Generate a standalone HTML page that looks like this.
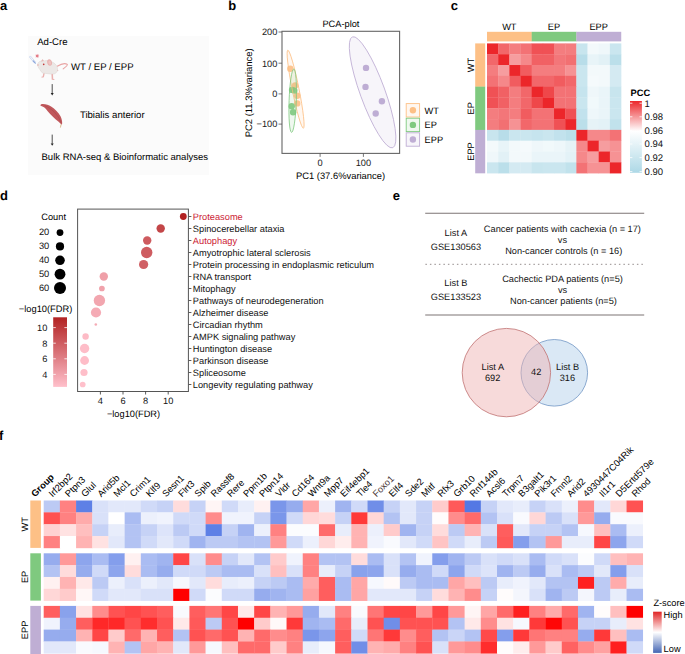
<!DOCTYPE html>
<html><head><meta charset="utf-8"><style>
html,body{margin:0;padding:0;background:#fff;overflow:hidden;}
svg{display:block;font-family:"Liberation Sans", sans-serif;text-rendering:geometricPrecision;}
</style></head><body>
<svg width="685" height="654" viewBox="0 0 685 654">
<rect width="685" height="654" fill="#fff"/>
<text x="0.10" y="9.70" font-size="13" text-anchor="start" fill="#000" font-weight="bold" >a</text>
<text x="228.20" y="9.70" font-size="13" text-anchor="start" fill="#000" font-weight="bold" >b</text>
<text x="450.80" y="9.60" font-size="13" text-anchor="start" fill="#000" font-weight="bold" >c</text>
<text x="0.00" y="200.20" font-size="13" text-anchor="start" fill="#000" font-weight="bold" >d</text>
<text x="392.70" y="200.30" font-size="13" text-anchor="start" fill="#000" font-weight="bold" >e</text>
<text x="-1.00" y="440.00" font-size="13" text-anchor="start" fill="#000" font-weight="bold" >f</text>
<rect x="28" y="36" width="181" height="139" fill="#fbfbfb"/>
<text x="37.20" y="45.30" font-size="9.6" text-anchor="start" fill="#000" font-weight="normal" >Ad-Cre</text>
<g>
<path d="M30.4 55.9 L29.3 57.0 L34.3 62.9 L35.4 61.8 Z" fill="#f2f5fb" stroke="#b3c5e6" stroke-width="0.5"/>
<path d="M33.2 60.9 L35.3 63.2" stroke="#8aa6dc" stroke-width="1.2" stroke-linecap="round"/>
<path d="M39.40 55.90 L38.22 56.32 L38.76 57.46 L37.62 56.92 L37.20 58.10 L36.78 56.92 L35.64 57.46 L36.18 56.32 L35.00 55.90 L36.18 55.48 L35.64 54.34 L36.78 54.88 L37.20 53.70 L37.62 54.88 L38.76 54.34 L38.22 55.48 Z" fill="#e47a86"/>
<path d="M57.2 66.2 C60.5 64.2 64.5 62.6 67.4 64.4 C67.6 66.2 65 67.3 63.2 68.8" fill="none" stroke="#e9a4a4" stroke-width="1.1" stroke-linecap="round"/>
<path d="M43.4 72.8 L44.8 73.0 L43.9 77.3 L41.5 77.7 L41.7 76.6 L42.7 76.4 Z" fill="#eab0ae"/>
<path d="M51.4 73.8 L53.0 73.8 L53.2 78.7 L54.6 79.2 L54.2 79.9 L51.7 79.7 Z" fill="#eab0ae"/>
<path d="M56.8 69.6 L58.6 70.3 L57.2 71.2 Z" fill="#eab0ae"/>
<path d="M37.3 65 C37.8 63.2 38.8 61.8 40.1 61.3 C41.5 60.8 43 60.7 44.2 60.9 C46.5 60.2 50 60.8 52.4 62.1 C54.3 63 56.6 64.8 57.3 67.4 C57.9 69.5 57.3 71.8 56.1 72.8 C55.2 73.6 54.4 74 53.6 74 L50.4 74 C48.5 73.9 46.5 73.3 43 73.2 C41.6 72.4 40.7 71.2 40.1 69.9 C39.3 68.8 38.2 67.4 37.3 65 Z" fill="#ece8e6" stroke="#ddd5d1" stroke-width="0.5"/>
<path d="M41.0 61.4 L42.6 58.9 L43.9 60.9 Z" fill="#e8b8b6"/>
<ellipse cx="49.6" cy="62.5" rx="2.4" ry="3.3" fill="#e9b4b2" transform="rotate(-12 49.6 62.5)"/>
<ellipse cx="49.7" cy="62.7" rx="1.3" ry="2.1" fill="#efc4c2" transform="rotate(-12 49.7 62.7)"/>
<circle cx="43.7" cy="64.3" r="0.85" fill="#c53a3a"/>
<circle cx="38.0" cy="65.0" r="0.8" fill="#e8b0ae"/>
</g>
<text x="71.00" y="69.80" font-size="9.6" text-anchor="start" fill="#000" font-weight="normal" >WT / EP / EPP</text>
<line x1="52.2" y1="84.1" x2="52.2" y2="93.5" stroke="#222" stroke-width="0.8"/>
<path d="M50.7 93.1 L53.7 93.1 L52.2 95.5 Z" fill="#222"/>
<line x1="52.2" y1="134.6" x2="52.2" y2="143.8" stroke="#222" stroke-width="0.8"/>
<path d="M50.7 143.4 L53.7 143.4 L52.2 145.8 Z" fill="#222"/>
<path d="M40.4 105.5 C40.2 104.6 41.2 103.9 42.9 103.9 C46 103.9 49 105 51.1 106.4 C55 108.8 58.5 112.5 60.5 116.2 C61.8 118.8 62.4 121.4 62.1 124 L61.6 124.7 C59.8 122.5 57.5 121 55.5 119.2 C52.5 116.6 50.5 114.5 48.8 112.5 C47 110.2 45.7 108.4 44 107.2 C42.6 106.3 41.2 106.2 40.4 105.5 Z" fill="#c0585c"/>
<path d="M44.5 105.6 C49 107.2 53.5 110.6 56.8 115 C58.8 117.6 60.3 120.2 61.2 123" stroke="#ad4a4e" stroke-width="0.7" fill="none"/>
<line x1="61.1" y1="124.3" x2="60.4" y2="127.6" stroke="#d8b684" stroke-width="0.9"/>
<text x="79.90" y="117.50" font-size="9.6" text-anchor="start" fill="#000" font-weight="normal" >Tibialis anterior</text>
<text x="41.50" y="160.10" font-size="9.52" text-anchor="start" fill="#000" font-weight="normal" >Bulk RNA-seq &amp; Bioinformatic analyses</text>
<circle cx="290.3" cy="68.8" r="3.2" fill="#fdc086" fill-opacity="0.9"/>
<circle cx="295.1" cy="85.5" r="3.2" fill="#fdc086" fill-opacity="0.9"/>
<circle cx="297.2" cy="95.8" r="3.2" fill="#fdc086" fill-opacity="0.9"/>
<circle cx="297.2" cy="103.4" r="3.2" fill="#fdc086" fill-opacity="0.9"/>
<circle cx="292.1" cy="89.9" r="3.2" fill="#7fc97f" fill-opacity="0.9"/>
<circle cx="294.3" cy="90.6" r="3.2" fill="#7fc97f" fill-opacity="0.9"/>
<circle cx="291.7" cy="106.3" r="3.2" fill="#7fc97f" fill-opacity="0.9"/>
<circle cx="293.1" cy="112.3" r="3.2" fill="#7fc97f" fill-opacity="0.9"/>
<circle cx="366" cy="67.9" r="3.2" fill="#bfaed4"/>
<circle cx="365.5" cy="86.9" r="3.2" fill="#bfaed4"/>
<circle cx="381.9" cy="101.2" r="3.2" fill="#bfaed4"/>
<circle cx="375.7" cy="113.5" r="3.2" fill="#bfaed4"/>
<ellipse cx="372.6" cy="92.3" rx="12.4" ry="59" transform="rotate(-20 372.6 92.3)" fill="#bfaed4" fill-opacity="0.12" stroke="#bfaed4" stroke-width="0.8"/>
<ellipse cx="295.6" cy="89.2" rx="3.4" ry="39.8" transform="rotate(-11.3 295.6 89.2)" fill="#fdc086" fill-opacity="0.12" stroke="#fdc086" stroke-width="0.8"/>
<ellipse cx="292.7" cy="100.7" rx="3.6" ry="31.7" transform="rotate(2 292.7 100.7)" fill="#7fc97f" fill-opacity="0.12" stroke="#7fc97f" stroke-width="0.8"/>
<rect x="282.0" y="31.3" width="117.60" height="122.10" fill="none" stroke="#666" stroke-width="1.1"/>
<line x1="278.5" y1="32.0" x2="282.0" y2="32.0" stroke="#555" stroke-width="0.8"/>
<text x="277.40" y="35.30" font-size="9.25" text-anchor="end" fill="#1a1a1a" font-weight="normal" >200</text>
<line x1="278.5" y1="63.2" x2="282.0" y2="63.2" stroke="#555" stroke-width="0.8"/>
<text x="277.40" y="66.50" font-size="9.25" text-anchor="end" fill="#1a1a1a" font-weight="normal" >100</text>
<line x1="278.5" y1="93.9" x2="282.0" y2="93.9" stroke="#555" stroke-width="0.8"/>
<text x="277.40" y="97.20" font-size="9.25" text-anchor="end" fill="#1a1a1a" font-weight="normal" >0</text>
<line x1="278.5" y1="124.1" x2="282.0" y2="124.1" stroke="#555" stroke-width="0.8"/>
<text x="277.40" y="127.40" font-size="9.25" text-anchor="end" fill="#1a1a1a" font-weight="normal" >−100</text>
<line x1="320.1" y1="153.4" x2="320.1" y2="156.9" stroke="#555" stroke-width="0.8"/>
<text x="320.10" y="165.50" font-size="9.25" text-anchor="middle" fill="#1a1a1a" font-weight="normal" >0</text>
<line x1="363.4" y1="153.4" x2="363.4" y2="156.9" stroke="#555" stroke-width="0.8"/>
<text x="363.40" y="165.50" font-size="9.25" text-anchor="middle" fill="#1a1a1a" font-weight="normal" >100</text>
<text x="340.90" y="26.80" font-size="9.25" text-anchor="middle" fill="#000" font-weight="normal" >PCA-plot</text>
<text x="340.50" y="178.50" font-size="9.4" text-anchor="middle" fill="#000" font-weight="normal" >PC1 (37.6%variance)</text>
<text x="0" y="0" font-size="9.45" text-anchor="middle" transform="translate(252.0 92.8) rotate(-90)">PC2 (11.3%variance)</text>
<rect x="406.2" y="103.6" width="13.4" height="13.4" fill="#fdc086" fill-opacity="0.12" stroke="#fdc086" stroke-width="0.9"/>
<circle cx="412.9" cy="110.3" r="3.2" fill="#fdc086"/>
<text x="424.60" y="113.80" font-size="9.25" text-anchor="start" fill="#000" font-weight="normal" >WT</text>
<rect x="406.2" y="118.19999999999999" width="13.4" height="13.4" fill="#7fc97f" fill-opacity="0.12" stroke="#7fc97f" stroke-width="0.9"/>
<circle cx="412.9" cy="124.89999999999999" r="3.2" fill="#7fc97f"/>
<text x="424.60" y="128.40" font-size="9.25" text-anchor="start" fill="#000" font-weight="normal" >EP</text>
<rect x="406.2" y="132.79999999999998" width="13.4" height="13.4" fill="#bfaed4" fill-opacity="0.12" stroke="#bfaed4" stroke-width="0.9"/>
<circle cx="412.9" cy="139.49999999999997" r="3.2" fill="#bfaed4"/>
<text x="424.60" y="143.00" font-size="9.25" text-anchor="start" fill="#000" font-weight="normal" >EPP</text>
<rect x="487.00" y="43.40" width="11.47" height="11.11" fill="#ec262a"/>
<rect x="498.17" y="43.40" width="11.47" height="11.11" fill="#f2676a"/>
<rect x="509.34" y="43.40" width="11.47" height="11.11" fill="#f47d7f"/>
<rect x="520.51" y="43.40" width="11.47" height="11.11" fill="#f37275"/>
<rect x="531.68" y="43.40" width="11.47" height="11.11" fill="#f05155"/>
<rect x="542.85" y="43.40" width="11.47" height="11.11" fill="#f05155"/>
<rect x="554.02" y="43.40" width="11.47" height="11.11" fill="#f47d7f"/>
<rect x="565.19" y="43.40" width="11.47" height="11.11" fill="#f47d7f"/>
<rect x="576.36" y="43.40" width="11.47" height="11.11" fill="#c8e5ee"/>
<rect x="587.53" y="43.40" width="11.47" height="11.11" fill="#f3f9fb"/>
<rect x="598.70" y="43.40" width="11.47" height="11.11" fill="#eff7fa"/>
<rect x="609.87" y="43.40" width="11.47" height="11.11" fill="#cae6ef"/>
<rect x="487.00" y="54.21" width="11.47" height="11.11" fill="#f2676a"/>
<rect x="498.17" y="54.21" width="11.47" height="11.11" fill="#ec262a"/>
<rect x="509.34" y="54.21" width="11.47" height="11.11" fill="#f69d9f"/>
<rect x="520.51" y="54.21" width="11.47" height="11.11" fill="#f5888a"/>
<rect x="531.68" y="54.21" width="11.47" height="11.11" fill="#f16164"/>
<rect x="542.85" y="54.21" width="11.47" height="11.11" fill="#f16164"/>
<rect x="554.02" y="54.21" width="11.47" height="11.11" fill="#f37679"/>
<rect x="565.19" y="54.21" width="11.47" height="11.11" fill="#f27072"/>
<rect x="576.36" y="54.21" width="11.47" height="11.11" fill="#b8dde9"/>
<rect x="587.53" y="54.21" width="11.47" height="11.11" fill="#e8f4f8"/>
<rect x="598.70" y="54.21" width="11.47" height="11.11" fill="#e2f1f6"/>
<rect x="609.87" y="54.21" width="11.47" height="11.11" fill="#bbdfea"/>
<rect x="487.00" y="65.02" width="11.47" height="11.11" fill="#f47d7f"/>
<rect x="498.17" y="65.02" width="11.47" height="11.11" fill="#f69d9f"/>
<rect x="509.34" y="65.02" width="11.47" height="11.11" fill="#ec262a"/>
<rect x="520.51" y="65.02" width="11.47" height="11.11" fill="#f15c5f"/>
<rect x="531.68" y="65.02" width="11.47" height="11.11" fill="#f47d7f"/>
<rect x="542.85" y="65.02" width="11.47" height="11.11" fill="#f47d7f"/>
<rect x="554.02" y="65.02" width="11.47" height="11.11" fill="#f47d7f"/>
<rect x="565.19" y="65.02" width="11.47" height="11.11" fill="#f69294"/>
<rect x="576.36" y="65.02" width="11.47" height="11.11" fill="#cae6ef"/>
<rect x="587.53" y="65.02" width="11.47" height="11.11" fill="#f3f9fb"/>
<rect x="598.70" y="65.02" width="11.47" height="11.11" fill="#f3f9fb"/>
<rect x="609.87" y="65.02" width="11.47" height="11.11" fill="#d4eaf2"/>
<rect x="487.00" y="75.83" width="11.47" height="11.11" fill="#f37275"/>
<rect x="498.17" y="75.83" width="11.47" height="11.11" fill="#f5888a"/>
<rect x="509.34" y="75.83" width="11.47" height="11.11" fill="#f15c5f"/>
<rect x="520.51" y="75.83" width="11.47" height="11.11" fill="#ec262a"/>
<rect x="531.68" y="75.83" width="11.47" height="11.11" fill="#f2676a"/>
<rect x="542.85" y="75.83" width="11.47" height="11.11" fill="#f2676a"/>
<rect x="554.02" y="75.83" width="11.47" height="11.11" fill="#f15c5f"/>
<rect x="565.19" y="75.83" width="11.47" height="11.11" fill="#f2676a"/>
<rect x="576.36" y="75.83" width="11.47" height="11.11" fill="#cae6ef"/>
<rect x="587.53" y="75.83" width="11.47" height="11.11" fill="#f5fafc"/>
<rect x="598.70" y="75.83" width="11.47" height="11.11" fill="#f3f9fb"/>
<rect x="609.87" y="75.83" width="11.47" height="11.11" fill="#d4eaf2"/>
<rect x="487.00" y="86.64" width="11.47" height="11.11" fill="#f05155"/>
<rect x="498.17" y="86.64" width="11.47" height="11.11" fill="#f16164"/>
<rect x="509.34" y="86.64" width="11.47" height="11.11" fill="#f47d7f"/>
<rect x="520.51" y="86.64" width="11.47" height="11.11" fill="#f2676a"/>
<rect x="531.68" y="86.64" width="11.47" height="11.11" fill="#ec262a"/>
<rect x="542.85" y="86.64" width="11.47" height="11.11" fill="#ef474a"/>
<rect x="554.02" y="86.64" width="11.47" height="11.11" fill="#f37275"/>
<rect x="565.19" y="86.64" width="11.47" height="11.11" fill="#f37275"/>
<rect x="576.36" y="86.64" width="11.47" height="11.11" fill="#c6e4ee"/>
<rect x="587.53" y="86.64" width="11.47" height="11.11" fill="#eff7fa"/>
<rect x="598.70" y="86.64" width="11.47" height="11.11" fill="#eaf5f9"/>
<rect x="609.87" y="86.64" width="11.47" height="11.11" fill="#c8e5ee"/>
<rect x="487.00" y="97.45" width="11.47" height="11.11" fill="#f05155"/>
<rect x="498.17" y="97.45" width="11.47" height="11.11" fill="#f16164"/>
<rect x="509.34" y="97.45" width="11.47" height="11.11" fill="#f47d7f"/>
<rect x="520.51" y="97.45" width="11.47" height="11.11" fill="#f2676a"/>
<rect x="531.68" y="97.45" width="11.47" height="11.11" fill="#ef474a"/>
<rect x="542.85" y="97.45" width="11.47" height="11.11" fill="#ec262a"/>
<rect x="554.02" y="97.45" width="11.47" height="11.11" fill="#f37275"/>
<rect x="565.19" y="97.45" width="11.47" height="11.11" fill="#f37275"/>
<rect x="576.36" y="97.45" width="11.47" height="11.11" fill="#cae6ef"/>
<rect x="587.53" y="97.45" width="11.47" height="11.11" fill="#f1f9fb"/>
<rect x="598.70" y="97.45" width="11.47" height="11.11" fill="#eaf5f9"/>
<rect x="609.87" y="97.45" width="11.47" height="11.11" fill="#cae6ef"/>
<rect x="487.00" y="108.26" width="11.47" height="11.11" fill="#f47d7f"/>
<rect x="498.17" y="108.26" width="11.47" height="11.11" fill="#f37679"/>
<rect x="509.34" y="108.26" width="11.47" height="11.11" fill="#f47d7f"/>
<rect x="520.51" y="108.26" width="11.47" height="11.11" fill="#f15c5f"/>
<rect x="531.68" y="108.26" width="11.47" height="11.11" fill="#f37275"/>
<rect x="542.85" y="108.26" width="11.47" height="11.11" fill="#f37275"/>
<rect x="554.02" y="108.26" width="11.47" height="11.11" fill="#ec262a"/>
<rect x="565.19" y="108.26" width="11.47" height="11.11" fill="#f05155"/>
<rect x="576.36" y="108.26" width="11.47" height="11.11" fill="#c2e2ed"/>
<rect x="587.53" y="108.26" width="11.47" height="11.11" fill="#eef7fa"/>
<rect x="598.70" y="108.26" width="11.47" height="11.11" fill="#eaf5f9"/>
<rect x="609.87" y="108.26" width="11.47" height="11.11" fill="#cae6ef"/>
<rect x="487.00" y="119.07" width="11.47" height="11.11" fill="#f47d7f"/>
<rect x="498.17" y="119.07" width="11.47" height="11.11" fill="#f27072"/>
<rect x="509.34" y="119.07" width="11.47" height="11.11" fill="#f69294"/>
<rect x="520.51" y="119.07" width="11.47" height="11.11" fill="#f2676a"/>
<rect x="531.68" y="119.07" width="11.47" height="11.11" fill="#f37275"/>
<rect x="542.85" y="119.07" width="11.47" height="11.11" fill="#f37275"/>
<rect x="554.02" y="119.07" width="11.47" height="11.11" fill="#f05155"/>
<rect x="565.19" y="119.07" width="11.47" height="11.11" fill="#ec262a"/>
<rect x="576.36" y="119.07" width="11.47" height="11.11" fill="#bbdfea"/>
<rect x="587.53" y="119.07" width="11.47" height="11.11" fill="#e6f3f7"/>
<rect x="598.70" y="119.07" width="11.47" height="11.11" fill="#e3f2f7"/>
<rect x="609.87" y="119.07" width="11.47" height="11.11" fill="#c1e2ec"/>
<rect x="487.00" y="129.88" width="11.47" height="11.11" fill="#c8e5ee"/>
<rect x="498.17" y="129.88" width="11.47" height="11.11" fill="#b8dde9"/>
<rect x="509.34" y="129.88" width="11.47" height="11.11" fill="#cae6ef"/>
<rect x="520.51" y="129.88" width="11.47" height="11.11" fill="#cae6ef"/>
<rect x="531.68" y="129.88" width="11.47" height="11.11" fill="#c6e4ee"/>
<rect x="542.85" y="129.88" width="11.47" height="11.11" fill="#cae6ef"/>
<rect x="554.02" y="129.88" width="11.47" height="11.11" fill="#c2e2ed"/>
<rect x="565.19" y="129.88" width="11.47" height="11.11" fill="#bbdfea"/>
<rect x="576.36" y="129.88" width="11.47" height="11.11" fill="#ec262a"/>
<rect x="587.53" y="129.88" width="11.47" height="11.11" fill="#f5888a"/>
<rect x="598.70" y="129.88" width="11.47" height="11.11" fill="#f5888a"/>
<rect x="609.87" y="129.88" width="11.47" height="11.11" fill="#f37275"/>
<rect x="487.00" y="140.69" width="11.47" height="11.11" fill="#f3f9fb"/>
<rect x="498.17" y="140.69" width="11.47" height="11.11" fill="#e8f4f8"/>
<rect x="509.34" y="140.69" width="11.47" height="11.11" fill="#f3f9fb"/>
<rect x="520.51" y="140.69" width="11.47" height="11.11" fill="#f5fafc"/>
<rect x="531.68" y="140.69" width="11.47" height="11.11" fill="#eff7fa"/>
<rect x="542.85" y="140.69" width="11.47" height="11.11" fill="#f1f9fb"/>
<rect x="554.02" y="140.69" width="11.47" height="11.11" fill="#eef7fa"/>
<rect x="565.19" y="140.69" width="11.47" height="11.11" fill="#e6f3f7"/>
<rect x="576.36" y="140.69" width="11.47" height="11.11" fill="#f5888a"/>
<rect x="587.53" y="140.69" width="11.47" height="11.11" fill="#ec262a"/>
<rect x="598.70" y="140.69" width="11.47" height="11.11" fill="#f69d9f"/>
<rect x="609.87" y="140.69" width="11.47" height="11.11" fill="#f69294"/>
<rect x="487.00" y="151.50" width="11.47" height="11.11" fill="#eff7fa"/>
<rect x="498.17" y="151.50" width="11.47" height="11.11" fill="#e2f1f6"/>
<rect x="509.34" y="151.50" width="11.47" height="11.11" fill="#f3f9fb"/>
<rect x="520.51" y="151.50" width="11.47" height="11.11" fill="#f3f9fb"/>
<rect x="531.68" y="151.50" width="11.47" height="11.11" fill="#eaf5f9"/>
<rect x="542.85" y="151.50" width="11.47" height="11.11" fill="#eaf5f9"/>
<rect x="554.02" y="151.50" width="11.47" height="11.11" fill="#eaf5f9"/>
<rect x="565.19" y="151.50" width="11.47" height="11.11" fill="#e3f2f7"/>
<rect x="576.36" y="151.50" width="11.47" height="11.11" fill="#f5888a"/>
<rect x="587.53" y="151.50" width="11.47" height="11.11" fill="#f69d9f"/>
<rect x="598.70" y="151.50" width="11.47" height="11.11" fill="#ec262a"/>
<rect x="609.87" y="151.50" width="11.47" height="11.11" fill="#f69294"/>
<rect x="487.00" y="162.31" width="11.47" height="11.11" fill="#cae6ef"/>
<rect x="498.17" y="162.31" width="11.47" height="11.11" fill="#bbdfea"/>
<rect x="509.34" y="162.31" width="11.47" height="11.11" fill="#d4eaf2"/>
<rect x="520.51" y="162.31" width="11.47" height="11.11" fill="#d4eaf2"/>
<rect x="531.68" y="162.31" width="11.47" height="11.11" fill="#c8e5ee"/>
<rect x="542.85" y="162.31" width="11.47" height="11.11" fill="#cae6ef"/>
<rect x="554.02" y="162.31" width="11.47" height="11.11" fill="#cae6ef"/>
<rect x="565.19" y="162.31" width="11.47" height="11.11" fill="#c1e2ec"/>
<rect x="576.36" y="162.31" width="11.47" height="11.11" fill="#f37275"/>
<rect x="587.53" y="162.31" width="11.47" height="11.11" fill="#f69294"/>
<rect x="598.70" y="162.31" width="11.47" height="11.11" fill="#f69294"/>
<rect x="609.87" y="162.31" width="11.47" height="11.11" fill="#ec262a"/>
<rect x="487.00" y="31.8" width="44.88" height="9.6" fill="#fdc086"/>
<rect x="475.2" y="43.40" width="10" height="43.44" fill="#fdc086"/>
<rect x="531.68" y="31.8" width="44.88" height="9.6" fill="#7fc97f"/>
<rect x="475.2" y="86.64" width="10" height="43.44" fill="#7fc97f"/>
<rect x="576.36" y="31.8" width="44.88" height="9.6" fill="#bfaed4"/>
<rect x="475.2" y="129.88" width="10" height="43.44" fill="#bfaed4"/>
<text x="509.34" y="30.10" font-size="9.25" text-anchor="middle" fill="#000" font-weight="normal" >WT</text>
<text x="0" y="0" font-size="9.25" text-anchor="middle" transform="translate(473.9 65.02) rotate(-90)">WT</text>
<text x="554.02" y="30.10" font-size="9.25" text-anchor="middle" fill="#000" font-weight="normal" >EP</text>
<text x="0" y="0" font-size="9.25" text-anchor="middle" transform="translate(473.9 108.26) rotate(-90)">EP</text>
<text x="598.70" y="30.10" font-size="9.25" text-anchor="middle" fill="#000" font-weight="normal" >EPP</text>
<text x="0" y="0" font-size="9.25" text-anchor="middle" transform="translate(473.9 151.50) rotate(-90)">EPP</text>
<defs><linearGradient id="pcc" x1="0" y1="1" x2="0" y2="0"><stop offset="0" stop-color="#add8e6"/><stop offset="0.58" stop-color="#ffffff"/><stop offset="1" stop-color="#ec262a"/></linearGradient></defs>
<rect x="630" y="101" width="11.9" height="71.8" fill="url(#pcc)"/>
<line x1="630" y1="103.2" x2="632.4" y2="103.2" stroke="#fff" stroke-width="0.8"/><line x1="639.5" y1="103.2" x2="641.9" y2="103.2" stroke="#fff" stroke-width="0.8"/>
<text x="644.60" y="106.60" font-size="9.5" text-anchor="start" fill="#111" font-weight="normal" >1</text>
<line x1="630" y1="116.8" x2="632.4" y2="116.8" stroke="#fff" stroke-width="0.8"/><line x1="639.5" y1="116.8" x2="641.9" y2="116.8" stroke="#fff" stroke-width="0.8"/>
<text x="644.60" y="120.20" font-size="9.5" text-anchor="start" fill="#111" font-weight="normal" >0.98</text>
<line x1="630" y1="130.5" x2="632.4" y2="130.5" stroke="#fff" stroke-width="0.8"/><line x1="639.5" y1="130.5" x2="641.9" y2="130.5" stroke="#fff" stroke-width="0.8"/>
<text x="644.60" y="133.90" font-size="9.5" text-anchor="start" fill="#111" font-weight="normal" >0.96</text>
<line x1="630" y1="144.0" x2="632.4" y2="144.0" stroke="#fff" stroke-width="0.8"/><line x1="639.5" y1="144.0" x2="641.9" y2="144.0" stroke="#fff" stroke-width="0.8"/>
<text x="644.60" y="147.40" font-size="9.5" text-anchor="start" fill="#111" font-weight="normal" >0.94</text>
<line x1="630" y1="157.6" x2="632.4" y2="157.6" stroke="#fff" stroke-width="0.8"/><line x1="639.5" y1="157.6" x2="641.9" y2="157.6" stroke="#fff" stroke-width="0.8"/>
<text x="644.60" y="161.00" font-size="9.5" text-anchor="start" fill="#111" font-weight="normal" >0.92</text>
<line x1="630" y1="171.6" x2="632.4" y2="171.6" stroke="#fff" stroke-width="0.8"/><line x1="639.5" y1="171.6" x2="641.9" y2="171.6" stroke="#fff" stroke-width="0.8"/>
<text x="644.60" y="175.00" font-size="9.5" text-anchor="start" fill="#111" font-weight="normal" >0.90</text>
<text x="630.50" y="95.70" font-size="9.3" text-anchor="start" fill="#000" font-weight="bold" >PCC</text>
<circle cx="183.3" cy="216.50" r="3.4" fill="#b22222"/>
<line x1="188.4" y1="216.50" x2="191.4" y2="216.50" stroke="#333" stroke-width="0.8"/>
<text x="192.80" y="219.60" font-size="9.28" text-anchor="start" fill="#cc2233" font-weight="normal" >Proteasome</text>
<circle cx="160.7" cy="228.50" r="4.2" fill="#c34648"/>
<line x1="188.4" y1="228.50" x2="191.4" y2="228.50" stroke="#333" stroke-width="0.8"/>
<text x="192.80" y="231.60" font-size="9.28" text-anchor="start" fill="#111" font-weight="normal" >Spinocerebellar ataxia</text>
<circle cx="147.2" cy="240.50" r="4.2" fill="#ce5b5f"/>
<line x1="188.4" y1="240.50" x2="191.4" y2="240.50" stroke="#333" stroke-width="0.8"/>
<text x="192.80" y="243.60" font-size="9.28" text-anchor="start" fill="#cc2233" font-weight="normal" >Autophagy</text>
<circle cx="146.7" cy="252.50" r="5.7" fill="#ce5c60"/>
<line x1="188.4" y1="252.50" x2="191.4" y2="252.50" stroke="#333" stroke-width="0.8"/>
<text x="192.80" y="255.60" font-size="9.28" text-anchor="start" fill="#111" font-weight="normal" >Amyotrophic lateral sclerosis</text>
<circle cx="143.6" cy="264.50" r="4.6" fill="#d06065"/>
<line x1="188.4" y1="264.50" x2="191.4" y2="264.50" stroke="#333" stroke-width="0.8"/>
<text x="192.80" y="267.60" font-size="9.28" text-anchor="start" fill="#111" font-weight="normal" >Protein processing in endoplasmic reticulum</text>
<circle cx="103.8" cy="276.50" r="4.2" fill="#ef9fa8"/>
<line x1="188.4" y1="276.50" x2="191.4" y2="276.50" stroke="#333" stroke-width="0.8"/>
<text x="192.80" y="279.60" font-size="9.28" text-anchor="start" fill="#111" font-weight="normal" >RNA transport</text>
<circle cx="101.9" cy="288.50" r="2.85" fill="#f0a2ab"/>
<line x1="188.4" y1="288.50" x2="191.4" y2="288.50" stroke="#333" stroke-width="0.8"/>
<text x="192.80" y="291.60" font-size="9.28" text-anchor="start" fill="#111" font-weight="normal" >Mitophagy</text>
<circle cx="99.4" cy="300.50" r="5.7" fill="#f2a6af"/>
<line x1="188.4" y1="300.50" x2="191.4" y2="300.50" stroke="#333" stroke-width="0.8"/>
<text x="192.80" y="303.60" font-size="9.28" text-anchor="start" fill="#111" font-weight="normal" >Pathways of neurodegeneration</text>
<circle cx="96.0" cy="312.50" r="5.1" fill="#f5abb5"/>
<line x1="188.4" y1="312.50" x2="191.4" y2="312.50" stroke="#333" stroke-width="0.8"/>
<text x="192.80" y="315.60" font-size="9.28" text-anchor="start" fill="#111" font-weight="normal" >Alzheimer disease</text>
<circle cx="95.8" cy="324.50" r="1.3" fill="#f5abb5"/>
<line x1="188.4" y1="324.50" x2="191.4" y2="324.50" stroke="#333" stroke-width="0.8"/>
<text x="192.80" y="327.60" font-size="9.28" text-anchor="start" fill="#111" font-weight="normal" >Circadian rhythm</text>
<circle cx="85.6" cy="336.50" r="3.2" fill="#fdbbc6"/>
<line x1="188.4" y1="336.50" x2="191.4" y2="336.50" stroke="#333" stroke-width="0.8"/>
<text x="192.80" y="339.60" font-size="9.28" text-anchor="start" fill="#111" font-weight="normal" >AMPK signaling pathway</text>
<circle cx="84.6" cy="348.50" r="4.7" fill="#febdc8"/>
<line x1="188.4" y1="348.50" x2="191.4" y2="348.50" stroke="#333" stroke-width="0.8"/>
<text x="192.80" y="351.60" font-size="9.28" text-anchor="start" fill="#111" font-weight="normal" >Huntington disease</text>
<circle cx="84.6" cy="360.50" r="4.4" fill="#febdc8"/>
<line x1="188.4" y1="360.50" x2="191.4" y2="360.50" stroke="#333" stroke-width="0.8"/>
<text x="192.80" y="363.60" font-size="9.28" text-anchor="start" fill="#111" font-weight="normal" >Parkinson disease</text>
<circle cx="84.0" cy="372.50" r="3.6" fill="#febec9"/>
<line x1="188.4" y1="372.50" x2="191.4" y2="372.50" stroke="#333" stroke-width="0.8"/>
<text x="192.80" y="375.60" font-size="9.28" text-anchor="start" fill="#111" font-weight="normal" >Spliceosome</text>
<circle cx="82.7" cy="384.50" r="2.85" fill="#ffc0cb"/>
<line x1="188.4" y1="384.50" x2="191.4" y2="384.50" stroke="#333" stroke-width="0.8"/>
<text x="192.80" y="387.60" font-size="9.28" text-anchor="start" fill="#111" font-weight="normal" >Longevity regulating pathway</text>
<rect x="77.6" y="209.1" width="110.80000000000001" height="182.4" fill="none" stroke="#555" stroke-width="1"/>
<line x1="100.4" y1="391.5" x2="100.4" y2="394.5" stroke="#333" stroke-width="0.8"/>
<text x="100.40" y="403.80" font-size="9.25" text-anchor="middle" fill="#111" font-weight="normal" >4</text>
<line x1="123.0" y1="391.5" x2="123.0" y2="394.5" stroke="#333" stroke-width="0.8"/>
<text x="123.00" y="403.80" font-size="9.25" text-anchor="middle" fill="#111" font-weight="normal" >6</text>
<line x1="145.6" y1="391.5" x2="145.6" y2="394.5" stroke="#333" stroke-width="0.8"/>
<text x="145.60" y="403.80" font-size="9.25" text-anchor="middle" fill="#111" font-weight="normal" >8</text>
<line x1="168.2" y1="391.5" x2="168.2" y2="394.5" stroke="#333" stroke-width="0.8"/>
<text x="168.20" y="403.80" font-size="9.25" text-anchor="middle" fill="#111" font-weight="normal" >10</text>
<text x="133.50" y="417.40" font-size="9.25" text-anchor="middle" fill="#000" font-weight="normal" >−log10(FDR)</text>
<text x="41.30" y="220.10" font-size="9.25" text-anchor="start" fill="#000" font-weight="normal" >Count</text>
<circle cx="60" cy="232.60" r="3.4" fill="#000"/>
<text x="49.30" y="235.30" font-size="9.3" text-anchor="end" fill="#111" font-weight="normal" >20</text>
<circle cx="60" cy="246.45" r="4.1" fill="#000"/>
<text x="49.30" y="249.15" font-size="9.3" text-anchor="end" fill="#111" font-weight="normal" >30</text>
<circle cx="60" cy="260.30" r="4.8" fill="#000"/>
<text x="49.30" y="263.00" font-size="9.3" text-anchor="end" fill="#111" font-weight="normal" >40</text>
<circle cx="60" cy="274.15" r="5.4" fill="#000"/>
<text x="49.30" y="276.85" font-size="9.3" text-anchor="end" fill="#111" font-weight="normal" >50</text>
<circle cx="60" cy="288.00" r="6.0" fill="#000"/>
<text x="49.30" y="290.70" font-size="9.3" text-anchor="end" fill="#111" font-weight="normal" >60</text>
<text x="45.60" y="311.90" font-size="9.3" text-anchor="middle" fill="#000" font-weight="normal" >−log10(FDR)</text>
<defs><linearGradient id="fdr" x1="0" y1="1" x2="0" y2="0"><stop offset="0" stop-color="#ffc0cb"/><stop offset="1" stop-color="#b22222"/></linearGradient></defs>
<rect x="53.2" y="317.3" width="13.8" height="69.6" fill="url(#fdr)"/>
<line x1="53.2" y1="327.6" x2="55.8" y2="327.6" stroke="#fff" stroke-width="0.8"/><line x1="64.4" y1="327.6" x2="67" y2="327.6" stroke="#fff" stroke-width="0.8"/>
<text x="47.40" y="330.90" font-size="9.25" text-anchor="end" fill="#111" font-weight="normal" >10</text>
<line x1="53.2" y1="343.2" x2="55.8" y2="343.2" stroke="#fff" stroke-width="0.8"/><line x1="64.4" y1="343.2" x2="67" y2="343.2" stroke="#fff" stroke-width="0.8"/>
<text x="47.40" y="346.50" font-size="9.25" text-anchor="end" fill="#111" font-weight="normal" >8</text>
<line x1="53.2" y1="358.8" x2="55.8" y2="358.8" stroke="#fff" stroke-width="0.8"/><line x1="64.4" y1="358.8" x2="67" y2="358.8" stroke="#fff" stroke-width="0.8"/>
<text x="47.40" y="362.10" font-size="9.25" text-anchor="end" fill="#111" font-weight="normal" >6</text>
<line x1="53.2" y1="374.4" x2="55.8" y2="374.4" stroke="#fff" stroke-width="0.8"/><line x1="64.4" y1="374.4" x2="67" y2="374.4" stroke="#fff" stroke-width="0.8"/>
<text x="47.40" y="377.70" font-size="9.25" text-anchor="end" fill="#111" font-weight="normal" >4</text>
<line x1="425.2" y1="213.3" x2="644.2" y2="213.3" stroke="#7d7575" stroke-width="1.1"/>
<line x1="425.4" y1="264.3" x2="644.2" y2="264.3" stroke="#aaa4a4" stroke-width="1.3" stroke-dasharray="1.5 3"/>
<line x1="425.2" y1="315.0" x2="644.2" y2="315.0" stroke="#7d7575" stroke-width="1.1"/>
<text x="455.90" y="236.00" font-size="9.22" text-anchor="middle" fill="#111" font-weight="normal" >List A</text>
<text x="455.90" y="249.80" font-size="9.22" text-anchor="middle" fill="#111" font-weight="normal" >GSE130563</text>
<text x="455.90" y="285.90" font-size="9.22" text-anchor="middle" fill="#111" font-weight="normal" >List B</text>
<text x="455.90" y="299.50" font-size="9.22" text-anchor="middle" fill="#111" font-weight="normal" >GSE133523</text>
<text x="562.40" y="232.00" font-size="9.22" text-anchor="middle" fill="#111" font-weight="normal" >Cancer patients with cachexia (n = 17)</text>
<text x="562.40" y="242.60" font-size="9.22" text-anchor="middle" fill="#111" font-weight="normal" >vs</text>
<text x="563.70" y="254.10" font-size="9.22" text-anchor="middle" fill="#111" font-weight="normal" >Non-cancer controls (n = 16)</text>
<text x="562.50" y="281.70" font-size="9.22" text-anchor="middle" fill="#111" font-weight="normal" >Cachectic PDA patients (n=5)</text>
<text x="562.50" y="292.50" font-size="9.22" text-anchor="middle" fill="#111" font-weight="normal" >vs</text>
<text x="563.50" y="303.80" font-size="9.22" text-anchor="middle" fill="#111" font-weight="normal" >Non-cancer patients (n=5)</text>
<circle cx="554.3" cy="372.8" r="33.3" fill="#dae8f5" stroke="#7096c4" stroke-width="0.8"/>
<circle cx="506.4" cy="372.6" r="44.2" fill="rgb(238,179,179)" fill-opacity="0.486" stroke="#c07272" stroke-width="0.8"/>
<path d="" />
<text x="492.80" y="370.00" font-size="9.22" text-anchor="middle" fill="#111" font-weight="normal" >List A</text>
<text x="492.60" y="381.30" font-size="9.22" text-anchor="middle" fill="#111" font-weight="normal" >692</text>
<text x="536.20" y="374.80" font-size="9.22" text-anchor="middle" fill="#111" font-weight="normal" >42</text>
<text x="567.60" y="370.00" font-size="9.22" text-anchor="middle" fill="#111" font-weight="normal" >List B</text>
<text x="567.40" y="381.30" font-size="9.22" text-anchor="middle" fill="#111" font-weight="normal" >316</text>
<rect x="43.70" y="500.50" width="16.49" height="12.15" fill="#bccaf4"/>
<rect x="59.89" y="500.50" width="16.49" height="12.15" fill="#ff8181"/>
<rect x="76.08" y="500.50" width="16.49" height="12.15" fill="#5e80e6"/>
<rect x="92.27" y="500.50" width="16.49" height="12.15" fill="#d9e1f9"/>
<rect x="108.46" y="500.50" width="16.49" height="12.15" fill="#e2e8fa"/>
<rect x="124.65" y="500.50" width="16.49" height="12.15" fill="#e2e8fa"/>
<rect x="140.84" y="500.50" width="16.49" height="12.15" fill="#d0daf8"/>
<rect x="157.03" y="500.50" width="16.49" height="12.15" fill="#c6d2f6"/>
<rect x="173.22" y="500.50" width="16.49" height="12.15" fill="#ffdcdc"/>
<rect x="189.41" y="500.50" width="16.49" height="12.15" fill="#c6d2f6"/>
<rect x="205.60" y="500.50" width="16.49" height="12.15" fill="#fff5f5"/>
<rect x="221.79" y="500.50" width="16.49" height="12.15" fill="#d0daf8"/>
<rect x="237.98" y="500.50" width="16.49" height="12.15" fill="#e8edfb"/>
<rect x="254.17" y="500.50" width="16.49" height="12.15" fill="#fff1f1"/>
<rect x="270.36" y="500.50" width="16.49" height="12.15" fill="#7a96ea"/>
<rect x="286.55" y="500.50" width="16.49" height="12.15" fill="#96acee"/>
<rect x="302.74" y="500.50" width="16.49" height="12.15" fill="#ffa6a6"/>
<rect x="318.93" y="500.50" width="16.49" height="12.15" fill="#ecf0fc"/>
<rect x="335.12" y="500.50" width="16.49" height="12.15" fill="#a0b4f0"/>
<rect x="351.31" y="500.50" width="16.49" height="12.15" fill="#d0daf8"/>
<rect x="367.50" y="500.50" width="16.49" height="12.15" fill="#708ee8"/>
<rect x="383.69" y="500.50" width="16.49" height="12.15" fill="#c6d2f6"/>
<rect x="399.88" y="500.50" width="16.49" height="12.15" fill="#e2e8fa"/>
<rect x="416.07" y="500.50" width="16.49" height="12.15" fill="#c6d2f6"/>
<rect x="432.26" y="500.50" width="16.49" height="12.15" fill="#ffcbcb"/>
<rect x="448.45" y="500.50" width="16.49" height="12.15" fill="#ff5959"/>
<rect x="464.64" y="500.50" width="16.49" height="12.15" fill="#5478e4"/>
<rect x="480.83" y="500.50" width="16.49" height="12.15" fill="#c6d2f6"/>
<rect x="497.02" y="500.50" width="16.49" height="12.15" fill="#e2e8fa"/>
<rect x="513.21" y="500.50" width="16.49" height="12.15" fill="#e8edfb"/>
<rect x="529.40" y="500.50" width="16.49" height="12.15" fill="#c6d2f6"/>
<rect x="545.59" y="500.50" width="16.49" height="12.15" fill="#d9e1f9"/>
<rect x="561.78" y="500.50" width="16.49" height="12.15" fill="#ecf0fc"/>
<rect x="577.97" y="500.50" width="16.49" height="12.15" fill="#ff8c8c"/>
<rect x="594.16" y="500.50" width="16.49" height="12.15" fill="#e2e8fa"/>
<rect x="610.35" y="500.50" width="16.49" height="12.15" fill="#ffd7d7"/>
<rect x="626.54" y="500.50" width="16.49" height="12.15" fill="#ff5252"/>
<rect x="43.70" y="512.35" width="16.49" height="12.15" fill="#ff5252"/>
<rect x="59.89" y="512.35" width="16.49" height="12.15" fill="#ff8181"/>
<rect x="76.08" y="512.35" width="16.49" height="12.15" fill="#ffabab"/>
<rect x="92.27" y="512.35" width="16.49" height="12.15" fill="#d9e1f9"/>
<rect x="108.46" y="512.35" width="16.49" height="12.15" fill="#ffffff"/>
<rect x="124.65" y="512.35" width="16.49" height="12.15" fill="#aabcf2"/>
<rect x="140.84" y="512.35" width="16.49" height="12.15" fill="#ecf0fc"/>
<rect x="157.03" y="512.35" width="16.49" height="12.15" fill="#f0f3fd"/>
<rect x="173.22" y="512.35" width="16.49" height="12.15" fill="#d0daf8"/>
<rect x="189.41" y="512.35" width="16.49" height="12.15" fill="#d0daf8"/>
<rect x="205.60" y="512.35" width="16.49" height="12.15" fill="#ff8c8c"/>
<rect x="221.79" y="512.35" width="16.49" height="12.15" fill="#f0f3fd"/>
<rect x="237.98" y="512.35" width="16.49" height="12.15" fill="#f0f3fd"/>
<rect x="254.17" y="512.35" width="16.49" height="12.15" fill="#c6d2f6"/>
<rect x="270.36" y="512.35" width="16.49" height="12.15" fill="#7a96ea"/>
<rect x="286.55" y="512.35" width="16.49" height="12.15" fill="#d0daf8"/>
<rect x="302.74" y="512.35" width="16.49" height="12.15" fill="#ffd7d7"/>
<rect x="318.93" y="512.35" width="16.49" height="12.15" fill="#ffdcdc"/>
<rect x="335.12" y="512.35" width="16.49" height="12.15" fill="#c6d2f6"/>
<rect x="351.31" y="512.35" width="16.49" height="12.15" fill="#ff3939"/>
<rect x="367.50" y="512.35" width="16.49" height="12.15" fill="#ffd7d7"/>
<rect x="383.69" y="512.35" width="16.49" height="12.15" fill="#b3c3f3"/>
<rect x="399.88" y="512.35" width="16.49" height="12.15" fill="#e2e8fa"/>
<rect x="416.07" y="512.35" width="16.49" height="12.15" fill="#c6d2f6"/>
<rect x="432.26" y="512.35" width="16.49" height="12.15" fill="#fffcfc"/>
<rect x="448.45" y="512.35" width="16.49" height="12.15" fill="#ff8c8c"/>
<rect x="464.64" y="512.35" width="16.49" height="12.15" fill="#ff6a6a"/>
<rect x="480.83" y="512.35" width="16.49" height="12.15" fill="#b3c3f3"/>
<rect x="497.02" y="512.35" width="16.49" height="12.15" fill="#d9e1f9"/>
<rect x="513.21" y="512.35" width="16.49" height="12.15" fill="#f9fafe"/>
<rect x="529.40" y="512.35" width="16.49" height="12.15" fill="#ffd7d7"/>
<rect x="545.59" y="512.35" width="16.49" height="12.15" fill="#bccaf4"/>
<rect x="561.78" y="512.35" width="16.49" height="12.15" fill="#d9e1f9"/>
<rect x="577.97" y="512.35" width="16.49" height="12.15" fill="#ff9999"/>
<rect x="594.16" y="512.35" width="16.49" height="12.15" fill="#96acee"/>
<rect x="610.35" y="512.35" width="16.49" height="12.15" fill="#f9fafe"/>
<rect x="626.54" y="512.35" width="16.49" height="12.15" fill="#f9fafe"/>
<rect x="43.70" y="524.20" width="16.49" height="12.15" fill="#ffd2d2"/>
<rect x="59.89" y="524.20" width="16.49" height="12.15" fill="#ffe2e2"/>
<rect x="76.08" y="524.20" width="16.49" height="12.15" fill="#ffbfbf"/>
<rect x="92.27" y="524.20" width="16.49" height="12.15" fill="#c6d2f6"/>
<rect x="108.46" y="524.20" width="16.49" height="12.15" fill="#e8edfb"/>
<rect x="124.65" y="524.20" width="16.49" height="12.15" fill="#b3c3f3"/>
<rect x="140.84" y="524.20" width="16.49" height="12.15" fill="#c6d2f6"/>
<rect x="157.03" y="524.20" width="16.49" height="12.15" fill="#dde4fa"/>
<rect x="173.22" y="524.20" width="16.49" height="12.15" fill="#bccaf4"/>
<rect x="189.41" y="524.20" width="16.49" height="12.15" fill="#d0daf8"/>
<rect x="205.60" y="524.20" width="16.49" height="12.15" fill="#5e80e6"/>
<rect x="221.79" y="524.20" width="16.49" height="12.15" fill="#c6d2f6"/>
<rect x="237.98" y="524.20" width="16.49" height="12.15" fill="#a0b4f0"/>
<rect x="254.17" y="524.20" width="16.49" height="12.15" fill="#ecf0fc"/>
<rect x="270.36" y="524.20" width="16.49" height="12.15" fill="#ff8181"/>
<rect x="286.55" y="524.20" width="16.49" height="12.15" fill="#fbfcfe"/>
<rect x="302.74" y="524.20" width="16.49" height="12.15" fill="#fbfcfe"/>
<rect x="318.93" y="524.20" width="16.49" height="12.15" fill="#ff6a6a"/>
<rect x="335.12" y="524.20" width="16.49" height="12.15" fill="#e8edfb"/>
<rect x="351.31" y="524.20" width="16.49" height="12.15" fill="#ffb3b3"/>
<rect x="367.50" y="524.20" width="16.49" height="12.15" fill="#ecf0fc"/>
<rect x="383.69" y="524.20" width="16.49" height="12.15" fill="#ffcbcb"/>
<rect x="399.88" y="524.20" width="16.49" height="12.15" fill="#a0b4f0"/>
<rect x="416.07" y="524.20" width="16.49" height="12.15" fill="#c6d2f6"/>
<rect x="432.26" y="524.20" width="16.49" height="12.15" fill="#ffdcdc"/>
<rect x="448.45" y="524.20" width="16.49" height="12.15" fill="#bccaf4"/>
<rect x="464.64" y="524.20" width="16.49" height="12.15" fill="#ffb3b3"/>
<rect x="480.83" y="524.20" width="16.49" height="12.15" fill="#d9e1f9"/>
<rect x="497.02" y="524.20" width="16.49" height="12.15" fill="#ff5e5e"/>
<rect x="513.21" y="524.20" width="16.49" height="12.15" fill="#e2e8fa"/>
<rect x="529.40" y="524.20" width="16.49" height="12.15" fill="#c6d2f6"/>
<rect x="545.59" y="524.20" width="16.49" height="12.15" fill="#c6d2f6"/>
<rect x="561.78" y="524.20" width="16.49" height="12.15" fill="#b3c3f3"/>
<rect x="577.97" y="524.20" width="16.49" height="12.15" fill="#f6f8fe"/>
<rect x="594.16" y="524.20" width="16.49" height="12.15" fill="#ffbfbf"/>
<rect x="610.35" y="524.20" width="16.49" height="12.15" fill="#aabcf2"/>
<rect x="626.54" y="524.20" width="16.49" height="12.15" fill="#ecf0fc"/>
<rect x="43.70" y="536.05" width="16.49" height="12.15" fill="#ff8181"/>
<rect x="59.89" y="536.05" width="16.49" height="12.15" fill="#ffffff"/>
<rect x="76.08" y="536.05" width="16.49" height="12.15" fill="#ffb3b3"/>
<rect x="92.27" y="536.05" width="16.49" height="12.15" fill="#ffe2e2"/>
<rect x="108.46" y="536.05" width="16.49" height="12.15" fill="#e2e8fa"/>
<rect x="124.65" y="536.05" width="16.49" height="12.15" fill="#b3c3f3"/>
<rect x="140.84" y="536.05" width="16.49" height="12.15" fill="#d0daf8"/>
<rect x="157.03" y="536.05" width="16.49" height="12.15" fill="#e2e8fa"/>
<rect x="173.22" y="536.05" width="16.49" height="12.15" fill="#d0daf8"/>
<rect x="189.41" y="536.05" width="16.49" height="12.15" fill="#a0b4f0"/>
<rect x="205.60" y="536.05" width="16.49" height="12.15" fill="#bccaf4"/>
<rect x="221.79" y="536.05" width="16.49" height="12.15" fill="#bccaf4"/>
<rect x="237.98" y="536.05" width="16.49" height="12.15" fill="#b3c3f3"/>
<rect x="254.17" y="536.05" width="16.49" height="12.15" fill="#b3c3f3"/>
<rect x="270.36" y="536.05" width="16.49" height="12.15" fill="#ff9999"/>
<rect x="286.55" y="536.05" width="16.49" height="12.15" fill="#d0daf8"/>
<rect x="302.74" y="536.05" width="16.49" height="12.15" fill="#ecf0fc"/>
<rect x="318.93" y="536.05" width="16.49" height="12.15" fill="#ffd7d7"/>
<rect x="335.12" y="536.05" width="16.49" height="12.15" fill="#ffeded"/>
<rect x="351.31" y="536.05" width="16.49" height="12.15" fill="#ffb3b3"/>
<rect x="367.50" y="536.05" width="16.49" height="12.15" fill="#f0f3fd"/>
<rect x="383.69" y="536.05" width="16.49" height="12.15" fill="#f9fafe"/>
<rect x="399.88" y="536.05" width="16.49" height="12.15" fill="#e2e8fa"/>
<rect x="416.07" y="536.05" width="16.49" height="12.15" fill="#d0daf8"/>
<rect x="432.26" y="536.05" width="16.49" height="12.15" fill="#ffc4c4"/>
<rect x="448.45" y="536.05" width="16.49" height="12.15" fill="#d0daf8"/>
<rect x="464.64" y="536.05" width="16.49" height="12.15" fill="#e8edfb"/>
<rect x="480.83" y="536.05" width="16.49" height="12.15" fill="#bccaf4"/>
<rect x="497.02" y="536.05" width="16.49" height="12.15" fill="#ff5959"/>
<rect x="513.21" y="536.05" width="16.49" height="12.15" fill="#849eec"/>
<rect x="529.40" y="536.05" width="16.49" height="12.15" fill="#b3c3f3"/>
<rect x="545.59" y="536.05" width="16.49" height="12.15" fill="#ff9999"/>
<rect x="561.78" y="536.05" width="16.49" height="12.15" fill="#e8edfb"/>
<rect x="577.97" y="536.05" width="16.49" height="12.15" fill="#e8edfb"/>
<rect x="594.16" y="536.05" width="16.49" height="12.15" fill="#ff4646"/>
<rect x="610.35" y="536.05" width="16.49" height="12.15" fill="#8da5ed"/>
<rect x="626.54" y="536.05" width="16.49" height="12.15" fill="#d0daf8"/>
<rect x="43.70" y="553.30" width="16.49" height="12.15" fill="#96acee"/>
<rect x="59.89" y="553.30" width="16.49" height="12.15" fill="#ff9999"/>
<rect x="76.08" y="553.30" width="16.49" height="12.15" fill="#8da5ed"/>
<rect x="92.27" y="553.30" width="16.49" height="12.15" fill="#aabcf2"/>
<rect x="108.46" y="553.30" width="16.49" height="12.15" fill="#849eec"/>
<rect x="124.65" y="553.30" width="16.49" height="12.15" fill="#fff1f1"/>
<rect x="140.84" y="553.30" width="16.49" height="12.15" fill="#aabcf2"/>
<rect x="157.03" y="553.30" width="16.49" height="12.15" fill="#a0b4f0"/>
<rect x="173.22" y="553.30" width="16.49" height="12.15" fill="#ff4646"/>
<rect x="189.41" y="553.30" width="16.49" height="12.15" fill="#d9e1f9"/>
<rect x="205.60" y="553.30" width="16.49" height="12.15" fill="#ff8c8c"/>
<rect x="221.79" y="553.30" width="16.49" height="12.15" fill="#c6d2f6"/>
<rect x="237.98" y="553.30" width="16.49" height="12.15" fill="#e2e8fa"/>
<rect x="254.17" y="553.30" width="16.49" height="12.15" fill="#b3c3f3"/>
<rect x="270.36" y="553.30" width="16.49" height="12.15" fill="#ffcbcb"/>
<rect x="286.55" y="553.30" width="16.49" height="12.15" fill="#f0f3fd"/>
<rect x="302.74" y="553.30" width="16.49" height="12.15" fill="#ff8181"/>
<rect x="318.93" y="553.30" width="16.49" height="12.15" fill="#b3c3f3"/>
<rect x="335.12" y="553.30" width="16.49" height="12.15" fill="#b3c3f3"/>
<rect x="351.31" y="553.30" width="16.49" height="12.15" fill="#ffdcdc"/>
<rect x="367.50" y="553.30" width="16.49" height="12.15" fill="#aabcf2"/>
<rect x="383.69" y="553.30" width="16.49" height="12.15" fill="#d9e1f9"/>
<rect x="399.88" y="553.30" width="16.49" height="12.15" fill="#b3c3f3"/>
<rect x="416.07" y="553.30" width="16.49" height="12.15" fill="#f0f3fd"/>
<rect x="432.26" y="553.30" width="16.49" height="12.15" fill="#849eec"/>
<rect x="448.45" y="553.30" width="16.49" height="12.15" fill="#a0b4f0"/>
<rect x="464.64" y="553.30" width="16.49" height="12.15" fill="#bccaf4"/>
<rect x="480.83" y="553.30" width="16.49" height="12.15" fill="#d9e1f9"/>
<rect x="497.02" y="553.30" width="16.49" height="12.15" fill="#d0daf8"/>
<rect x="513.21" y="553.30" width="16.49" height="12.15" fill="#d9e1f9"/>
<rect x="529.40" y="553.30" width="16.49" height="12.15" fill="#aabcf2"/>
<rect x="545.59" y="553.30" width="16.49" height="12.15" fill="#d0daf8"/>
<rect x="561.78" y="553.30" width="16.49" height="12.15" fill="#d9e1f9"/>
<rect x="577.97" y="553.30" width="16.49" height="12.15" fill="#fbfcfe"/>
<rect x="594.16" y="553.30" width="16.49" height="12.15" fill="#d0daf8"/>
<rect x="610.35" y="553.30" width="16.49" height="12.15" fill="#ffbfbf"/>
<rect x="626.54" y="553.30" width="16.49" height="12.15" fill="#ffb3b3"/>
<rect x="43.70" y="565.13" width="16.49" height="12.15" fill="#b3c3f3"/>
<rect x="59.89" y="565.13" width="16.49" height="12.15" fill="#ffdcdc"/>
<rect x="76.08" y="565.13" width="16.49" height="12.15" fill="#96acee"/>
<rect x="92.27" y="565.13" width="16.49" height="12.15" fill="#d0daf8"/>
<rect x="108.46" y="565.13" width="16.49" height="12.15" fill="#8da5ed"/>
<rect x="124.65" y="565.13" width="16.49" height="12.15" fill="#ffdcdc"/>
<rect x="140.84" y="565.13" width="16.49" height="12.15" fill="#aabcf2"/>
<rect x="157.03" y="565.13" width="16.49" height="12.15" fill="#96acee"/>
<rect x="173.22" y="565.13" width="16.49" height="12.15" fill="#d0daf8"/>
<rect x="189.41" y="565.13" width="16.49" height="12.15" fill="#d0daf8"/>
<rect x="205.60" y="565.13" width="16.49" height="12.15" fill="#bccaf4"/>
<rect x="221.79" y="565.13" width="16.49" height="12.15" fill="#aabcf2"/>
<rect x="237.98" y="565.13" width="16.49" height="12.15" fill="#aabcf2"/>
<rect x="254.17" y="565.13" width="16.49" height="12.15" fill="#d9e1f9"/>
<rect x="270.36" y="565.13" width="16.49" height="12.15" fill="#ffbfbf"/>
<rect x="286.55" y="565.13" width="16.49" height="12.15" fill="#d9e1f9"/>
<rect x="302.74" y="565.13" width="16.49" height="12.15" fill="#ff8181"/>
<rect x="318.93" y="565.13" width="16.49" height="12.15" fill="#e8edfb"/>
<rect x="335.12" y="565.13" width="16.49" height="12.15" fill="#c6d2f6"/>
<rect x="351.31" y="565.13" width="16.49" height="12.15" fill="#89a2ec"/>
<rect x="367.50" y="565.13" width="16.49" height="12.15" fill="#8da5ed"/>
<rect x="383.69" y="565.13" width="16.49" height="12.15" fill="#d9e1f9"/>
<rect x="399.88" y="565.13" width="16.49" height="12.15" fill="#96acee"/>
<rect x="416.07" y="565.13" width="16.49" height="12.15" fill="#aabcf2"/>
<rect x="432.26" y="565.13" width="16.49" height="12.15" fill="#d0daf8"/>
<rect x="448.45" y="565.13" width="16.49" height="12.15" fill="#8da5ed"/>
<rect x="464.64" y="565.13" width="16.49" height="12.15" fill="#d0daf8"/>
<rect x="480.83" y="565.13" width="16.49" height="12.15" fill="#dde4fa"/>
<rect x="497.02" y="565.13" width="16.49" height="12.15" fill="#a0b4f0"/>
<rect x="513.21" y="565.13" width="16.49" height="12.15" fill="#bccaf4"/>
<rect x="529.40" y="565.13" width="16.49" height="12.15" fill="#96acee"/>
<rect x="545.59" y="565.13" width="16.49" height="12.15" fill="#d9e1f9"/>
<rect x="561.78" y="565.13" width="16.49" height="12.15" fill="#aabcf2"/>
<rect x="577.97" y="565.13" width="16.49" height="12.15" fill="#bccaf4"/>
<rect x="594.16" y="565.13" width="16.49" height="12.15" fill="#e2e8fa"/>
<rect x="610.35" y="565.13" width="16.49" height="12.15" fill="#849eec"/>
<rect x="626.54" y="565.13" width="16.49" height="12.15" fill="#d9e1f9"/>
<rect x="43.70" y="576.96" width="16.49" height="12.15" fill="#fff1f1"/>
<rect x="59.89" y="576.96" width="16.49" height="12.15" fill="#ffb3b3"/>
<rect x="76.08" y="576.96" width="16.49" height="12.15" fill="#ffe9e9"/>
<rect x="92.27" y="576.96" width="16.49" height="12.15" fill="#bccaf4"/>
<rect x="108.46" y="576.96" width="16.49" height="12.15" fill="#ecf0fc"/>
<rect x="124.65" y="576.96" width="16.49" height="12.15" fill="#d9e1f9"/>
<rect x="140.84" y="576.96" width="16.49" height="12.15" fill="#ecf0fc"/>
<rect x="157.03" y="576.96" width="16.49" height="12.15" fill="#e2e8fa"/>
<rect x="173.22" y="576.96" width="16.49" height="12.15" fill="#f6f8fe"/>
<rect x="189.41" y="576.96" width="16.49" height="12.15" fill="#e2e8fa"/>
<rect x="205.60" y="576.96" width="16.49" height="12.15" fill="#ffdcdc"/>
<rect x="221.79" y="576.96" width="16.49" height="12.15" fill="#e8edfb"/>
<rect x="237.98" y="576.96" width="16.49" height="12.15" fill="#ecf0fc"/>
<rect x="254.17" y="576.96" width="16.49" height="12.15" fill="#c6d2f6"/>
<rect x="270.36" y="576.96" width="16.49" height="12.15" fill="#bccaf4"/>
<rect x="286.55" y="576.96" width="16.49" height="12.15" fill="#aabcf2"/>
<rect x="302.74" y="576.96" width="16.49" height="12.15" fill="#ffabab"/>
<rect x="318.93" y="576.96" width="16.49" height="12.15" fill="#ff5e5e"/>
<rect x="335.12" y="576.96" width="16.49" height="12.15" fill="#aabcf2"/>
<rect x="351.31" y="576.96" width="16.49" height="12.15" fill="#ffa6a6"/>
<rect x="367.50" y="576.96" width="16.49" height="12.15" fill="#f6f8fe"/>
<rect x="383.69" y="576.96" width="16.49" height="12.15" fill="#fffafa"/>
<rect x="399.88" y="576.96" width="16.49" height="12.15" fill="#bccaf4"/>
<rect x="416.07" y="576.96" width="16.49" height="12.15" fill="#aabcf2"/>
<rect x="432.26" y="576.96" width="16.49" height="12.15" fill="#aabcf2"/>
<rect x="448.45" y="576.96" width="16.49" height="12.15" fill="#ffa6a6"/>
<rect x="464.64" y="576.96" width="16.49" height="12.15" fill="#ffbfbf"/>
<rect x="480.83" y="576.96" width="16.49" height="12.15" fill="#bccaf4"/>
<rect x="497.02" y="576.96" width="16.49" height="12.15" fill="#e8edfb"/>
<rect x="513.21" y="576.96" width="16.49" height="12.15" fill="#f0f3fd"/>
<rect x="529.40" y="576.96" width="16.49" height="12.15" fill="#e2e8fa"/>
<rect x="545.59" y="576.96" width="16.49" height="12.15" fill="#b3c3f3"/>
<rect x="561.78" y="576.96" width="16.49" height="12.15" fill="#b3c3f3"/>
<rect x="577.97" y="576.96" width="16.49" height="12.15" fill="#ff2020"/>
<rect x="594.16" y="576.96" width="16.49" height="12.15" fill="#bccaf4"/>
<rect x="610.35" y="576.96" width="16.49" height="12.15" fill="#ffabab"/>
<rect x="626.54" y="576.96" width="16.49" height="12.15" fill="#e8edfb"/>
<rect x="43.70" y="588.79" width="16.49" height="12.15" fill="#ffd7d7"/>
<rect x="59.89" y="588.79" width="16.49" height="12.15" fill="#ffcbcb"/>
<rect x="76.08" y="588.79" width="16.49" height="12.15" fill="#fff7f7"/>
<rect x="92.27" y="588.79" width="16.49" height="12.15" fill="#d0daf8"/>
<rect x="108.46" y="588.79" width="16.49" height="12.15" fill="#e2e8fa"/>
<rect x="124.65" y="588.79" width="16.49" height="12.15" fill="#e2e8fa"/>
<rect x="140.84" y="588.79" width="16.49" height="12.15" fill="#d9e1f9"/>
<rect x="157.03" y="588.79" width="16.49" height="12.15" fill="#d9e1f9"/>
<rect x="173.22" y="588.79" width="16.49" height="12.15" fill="#ff0000"/>
<rect x="189.41" y="588.79" width="16.49" height="12.15" fill="#d0daf8"/>
<rect x="205.60" y="588.79" width="16.49" height="12.15" fill="#fbfcfe"/>
<rect x="221.79" y="588.79" width="16.49" height="12.15" fill="#d0daf8"/>
<rect x="237.98" y="588.79" width="16.49" height="12.15" fill="#d0daf8"/>
<rect x="254.17" y="588.79" width="16.49" height="12.15" fill="#96acee"/>
<rect x="270.36" y="588.79" width="16.49" height="12.15" fill="#a0b4f0"/>
<rect x="286.55" y="588.79" width="16.49" height="12.15" fill="#aabcf2"/>
<rect x="302.74" y="588.79" width="16.49" height="12.15" fill="#ffa1a1"/>
<rect x="318.93" y="588.79" width="16.49" height="12.15" fill="#ff5e5e"/>
<rect x="335.12" y="588.79" width="16.49" height="12.15" fill="#aabcf2"/>
<rect x="351.31" y="588.79" width="16.49" height="12.15" fill="#ffa6a6"/>
<rect x="367.50" y="588.79" width="16.49" height="12.15" fill="#e2e8fa"/>
<rect x="383.69" y="588.79" width="16.49" height="12.15" fill="#e2e8fa"/>
<rect x="399.88" y="588.79" width="16.49" height="12.15" fill="#e2e8fa"/>
<rect x="416.07" y="588.79" width="16.49" height="12.15" fill="#c6d2f6"/>
<rect x="432.26" y="588.79" width="16.49" height="12.15" fill="#ffdcdc"/>
<rect x="448.45" y="588.79" width="16.49" height="12.15" fill="#ffb3b3"/>
<rect x="464.64" y="588.79" width="16.49" height="12.15" fill="#ff8c8c"/>
<rect x="480.83" y="588.79" width="16.49" height="12.15" fill="#c6d2f6"/>
<rect x="497.02" y="588.79" width="16.49" height="12.15" fill="#fffcfc"/>
<rect x="513.21" y="588.79" width="16.49" height="12.15" fill="#f4f6fd"/>
<rect x="529.40" y="588.79" width="16.49" height="12.15" fill="#d9e1f9"/>
<rect x="545.59" y="588.79" width="16.49" height="12.15" fill="#a0b4f0"/>
<rect x="561.78" y="588.79" width="16.49" height="12.15" fill="#bccaf4"/>
<rect x="577.97" y="588.79" width="16.49" height="12.15" fill="#f4f6fd"/>
<rect x="594.16" y="588.79" width="16.49" height="12.15" fill="#bccaf4"/>
<rect x="610.35" y="588.79" width="16.49" height="12.15" fill="#e8edfb"/>
<rect x="626.54" y="588.79" width="16.49" height="12.15" fill="#aabcf2"/>
<rect x="43.70" y="605.90" width="16.49" height="12.15" fill="#ff5e5e"/>
<rect x="59.89" y="605.90" width="16.49" height="12.15" fill="#89a2ec"/>
<rect x="76.08" y="605.90" width="16.49" height="12.15" fill="#ffe2e2"/>
<rect x="92.27" y="605.90" width="16.49" height="12.15" fill="#ff8c8c"/>
<rect x="108.46" y="605.90" width="16.49" height="12.15" fill="#ff5252"/>
<rect x="124.65" y="605.90" width="16.49" height="12.15" fill="#ff4646"/>
<rect x="140.84" y="605.90" width="16.49" height="12.15" fill="#ff5252"/>
<rect x="157.03" y="605.90" width="16.49" height="12.15" fill="#ff5e5e"/>
<rect x="173.22" y="605.90" width="16.49" height="12.15" fill="#f9fafe"/>
<rect x="189.41" y="605.90" width="16.49" height="12.15" fill="#ff5e5e"/>
<rect x="205.60" y="605.90" width="16.49" height="12.15" fill="#ff7575"/>
<rect x="221.79" y="605.90" width="16.49" height="12.15" fill="#ff4646"/>
<rect x="237.98" y="605.90" width="16.49" height="12.15" fill="#ffe9e9"/>
<rect x="254.17" y="605.90" width="16.49" height="12.15" fill="#ff4646"/>
<rect x="270.36" y="605.90" width="16.49" height="12.15" fill="#ffb3b3"/>
<rect x="286.55" y="605.90" width="16.49" height="12.15" fill="#ff9999"/>
<rect x="302.74" y="605.90" width="16.49" height="12.15" fill="#96acee"/>
<rect x="318.93" y="605.90" width="16.49" height="12.15" fill="#e2e8fa"/>
<rect x="335.12" y="605.90" width="16.49" height="12.15" fill="#ff8181"/>
<rect x="351.31" y="605.90" width="16.49" height="12.15" fill="#f9fafe"/>
<rect x="367.50" y="605.90" width="16.49" height="12.15" fill="#ff7575"/>
<rect x="383.69" y="605.90" width="16.49" height="12.15" fill="#ff4646"/>
<rect x="399.88" y="605.90" width="16.49" height="12.15" fill="#ff4646"/>
<rect x="416.07" y="605.90" width="16.49" height="12.15" fill="#ff9999"/>
<rect x="432.26" y="605.90" width="16.49" height="12.15" fill="#ff4646"/>
<rect x="448.45" y="605.90" width="16.49" height="12.15" fill="#ff9999"/>
<rect x="464.64" y="605.90" width="16.49" height="12.15" fill="#fff5f5"/>
<rect x="480.83" y="605.90" width="16.49" height="12.15" fill="#ffa6a6"/>
<rect x="497.02" y="605.90" width="16.49" height="12.15" fill="#ff6a6a"/>
<rect x="513.21" y="605.90" width="16.49" height="12.15" fill="#ff2020"/>
<rect x="529.40" y="605.90" width="16.49" height="12.15" fill="#ff8181"/>
<rect x="545.59" y="605.90" width="16.49" height="12.15" fill="#ffabab"/>
<rect x="561.78" y="605.90" width="16.49" height="12.15" fill="#ff6a6a"/>
<rect x="577.97" y="605.90" width="16.49" height="12.15" fill="#a0b4f0"/>
<rect x="594.16" y="605.90" width="16.49" height="12.15" fill="#fffcfc"/>
<rect x="610.35" y="605.90" width="16.49" height="12.15" fill="#ffbfbf"/>
<rect x="626.54" y="605.90" width="16.49" height="12.15" fill="#ff0000"/>
<rect x="43.70" y="617.75" width="16.49" height="12.15" fill="#f0f3fd"/>
<rect x="59.89" y="617.75" width="16.49" height="12.15" fill="#96acee"/>
<rect x="76.08" y="617.75" width="16.49" height="12.15" fill="#ff5e5e"/>
<rect x="92.27" y="617.75" width="16.49" height="12.15" fill="#ff2828"/>
<rect x="108.46" y="617.75" width="16.49" height="12.15" fill="#ff2828"/>
<rect x="124.65" y="617.75" width="16.49" height="12.15" fill="#ff5252"/>
<rect x="140.84" y="617.75" width="16.49" height="12.15" fill="#ff2d2d"/>
<rect x="157.03" y="617.75" width="16.49" height="12.15" fill="#ff5252"/>
<rect x="173.22" y="617.75" width="16.49" height="12.15" fill="#ffe9e9"/>
<rect x="189.41" y="617.75" width="16.49" height="12.15" fill="#ff5959"/>
<rect x="205.60" y="617.75" width="16.49" height="12.15" fill="#bccaf4"/>
<rect x="221.79" y="617.75" width="16.49" height="12.15" fill="#ff5252"/>
<rect x="237.98" y="617.75" width="16.49" height="12.15" fill="#ff0000"/>
<rect x="254.17" y="617.75" width="16.49" height="12.15" fill="#ffcbcb"/>
<rect x="270.36" y="617.75" width="16.49" height="12.15" fill="#fff9f9"/>
<rect x="286.55" y="617.75" width="16.49" height="12.15" fill="#ff3939"/>
<rect x="302.74" y="617.75" width="16.49" height="12.15" fill="#a0b4f0"/>
<rect x="318.93" y="617.75" width="16.49" height="12.15" fill="#aabcf2"/>
<rect x="335.12" y="617.75" width="16.49" height="12.15" fill="#ff6a6a"/>
<rect x="351.31" y="617.75" width="16.49" height="12.15" fill="#e8edfb"/>
<rect x="367.50" y="617.75" width="16.49" height="12.15" fill="#ff5252"/>
<rect x="383.69" y="617.75" width="16.49" height="12.15" fill="#708ee8"/>
<rect x="399.88" y="617.75" width="16.49" height="12.15" fill="#ff5252"/>
<rect x="416.07" y="617.75" width="16.49" height="12.15" fill="#ff5252"/>
<rect x="432.26" y="617.75" width="16.49" height="12.15" fill="#ff5252"/>
<rect x="448.45" y="617.75" width="16.49" height="12.15" fill="#b3c3f3"/>
<rect x="464.64" y="617.75" width="16.49" height="12.15" fill="#ffe9e9"/>
<rect x="480.83" y="617.75" width="16.49" height="12.15" fill="#ff8c8c"/>
<rect x="497.02" y="617.75" width="16.49" height="12.15" fill="#ffe2e2"/>
<rect x="513.21" y="617.75" width="16.49" height="12.15" fill="#f6f8fe"/>
<rect x="529.40" y="617.75" width="16.49" height="12.15" fill="#ff3939"/>
<rect x="545.59" y="617.75" width="16.49" height="12.15" fill="#ff0606"/>
<rect x="561.78" y="617.75" width="16.49" height="12.15" fill="#ff5252"/>
<rect x="577.97" y="617.75" width="16.49" height="12.15" fill="#c6d2f6"/>
<rect x="594.16" y="617.75" width="16.49" height="12.15" fill="#c6d2f6"/>
<rect x="610.35" y="617.75" width="16.49" height="12.15" fill="#e8edfb"/>
<rect x="626.54" y="617.75" width="16.49" height="12.15" fill="#ffe2e2"/>
<rect x="43.70" y="629.60" width="16.49" height="12.15" fill="#96acee"/>
<rect x="59.89" y="629.60" width="16.49" height="12.15" fill="#96acee"/>
<rect x="76.08" y="629.60" width="16.49" height="12.15" fill="#ffb3b3"/>
<rect x="92.27" y="629.60" width="16.49" height="12.15" fill="#ff4646"/>
<rect x="108.46" y="629.60" width="16.49" height="12.15" fill="#ffcbcb"/>
<rect x="124.65" y="629.60" width="16.49" height="12.15" fill="#ff6a6a"/>
<rect x="140.84" y="629.60" width="16.49" height="12.15" fill="#ffb3b3"/>
<rect x="157.03" y="629.60" width="16.49" height="12.15" fill="#ff5e5e"/>
<rect x="173.22" y="629.60" width="16.49" height="12.15" fill="#b3c3f3"/>
<rect x="189.41" y="629.60" width="16.49" height="12.15" fill="#ff5252"/>
<rect x="205.60" y="629.60" width="16.49" height="12.15" fill="#ff6a6a"/>
<rect x="221.79" y="629.60" width="16.49" height="12.15" fill="#ff5252"/>
<rect x="237.98" y="629.60" width="16.49" height="12.15" fill="#ffb3b3"/>
<rect x="254.17" y="629.60" width="16.49" height="12.15" fill="#ff6a6a"/>
<rect x="270.36" y="629.60" width="16.49" height="12.15" fill="#ff8c8c"/>
<rect x="286.55" y="629.60" width="16.49" height="12.15" fill="#ff8181"/>
<rect x="302.74" y="629.60" width="16.49" height="12.15" fill="#7a96ea"/>
<rect x="318.93" y="629.60" width="16.49" height="12.15" fill="#8da5ed"/>
<rect x="335.12" y="629.60" width="16.49" height="12.15" fill="#ff5e5e"/>
<rect x="351.31" y="629.60" width="16.49" height="12.15" fill="#d0daf8"/>
<rect x="367.50" y="629.60" width="16.49" height="12.15" fill="#ff7575"/>
<rect x="383.69" y="629.60" width="16.49" height="12.15" fill="#ff3939"/>
<rect x="399.88" y="629.60" width="16.49" height="12.15" fill="#ff8c8c"/>
<rect x="416.07" y="629.60" width="16.49" height="12.15" fill="#ff5e5e"/>
<rect x="432.26" y="629.60" width="16.49" height="12.15" fill="#b3c3f3"/>
<rect x="448.45" y="629.60" width="16.49" height="12.15" fill="#cad5f7"/>
<rect x="464.64" y="629.60" width="16.49" height="12.15" fill="#b3c3f3"/>
<rect x="480.83" y="629.60" width="16.49" height="12.15" fill="#ff4a4a"/>
<rect x="497.02" y="629.60" width="16.49" height="12.15" fill="#849eec"/>
<rect x="513.21" y="629.60" width="16.49" height="12.15" fill="#ff3939"/>
<rect x="529.40" y="629.60" width="16.49" height="12.15" fill="#ff7575"/>
<rect x="545.59" y="629.60" width="16.49" height="12.15" fill="#ff8181"/>
<rect x="561.78" y="629.60" width="16.49" height="12.15" fill="#ff8181"/>
<rect x="577.97" y="629.60" width="16.49" height="12.15" fill="#96acee"/>
<rect x="594.16" y="629.60" width="16.49" height="12.15" fill="#ff3939"/>
<rect x="610.35" y="629.60" width="16.49" height="12.15" fill="#ffbfbf"/>
<rect x="626.54" y="629.60" width="16.49" height="12.15" fill="#aabcf2"/>
<rect x="43.70" y="641.45" width="16.49" height="12.15" fill="#e2e8fa"/>
<rect x="59.89" y="641.45" width="16.49" height="12.15" fill="#e2e8fa"/>
<rect x="76.08" y="641.45" width="16.49" height="12.15" fill="#f9fafe"/>
<rect x="92.27" y="641.45" width="16.49" height="12.15" fill="#f6f8fe"/>
<rect x="108.46" y="641.45" width="16.49" height="12.15" fill="#ffb3b3"/>
<rect x="124.65" y="641.45" width="16.49" height="12.15" fill="#b3c3f3"/>
<rect x="140.84" y="641.45" width="16.49" height="12.15" fill="#ffa6a6"/>
<rect x="157.03" y="641.45" width="16.49" height="12.15" fill="#ffb3b3"/>
<rect x="173.22" y="641.45" width="16.49" height="12.15" fill="#e2e8fa"/>
<rect x="189.41" y="641.45" width="16.49" height="12.15" fill="#ff9999"/>
<rect x="205.60" y="641.45" width="16.49" height="12.15" fill="#f6f8fe"/>
<rect x="221.79" y="641.45" width="16.49" height="12.15" fill="#ffbfbf"/>
<rect x="237.98" y="641.45" width="16.49" height="12.15" fill="#ff6a6a"/>
<rect x="254.17" y="641.45" width="16.49" height="12.15" fill="#ff6a6a"/>
<rect x="270.36" y="641.45" width="16.49" height="12.15" fill="#ffcbcb"/>
<rect x="286.55" y="641.45" width="16.49" height="12.15" fill="#ff8181"/>
<rect x="302.74" y="641.45" width="16.49" height="12.15" fill="#e8edfb"/>
<rect x="318.93" y="641.45" width="16.49" height="12.15" fill="#f6f8fe"/>
<rect x="335.12" y="641.45" width="16.49" height="12.15" fill="#ff5e5e"/>
<rect x="351.31" y="641.45" width="16.49" height="12.15" fill="#708ee8"/>
<rect x="367.50" y="641.45" width="16.49" height="12.15" fill="#ffb3b3"/>
<rect x="383.69" y="641.45" width="16.49" height="12.15" fill="#ffabab"/>
<rect x="399.88" y="641.45" width="16.49" height="12.15" fill="#ff8181"/>
<rect x="416.07" y="641.45" width="16.49" height="12.15" fill="#ff5252"/>
<rect x="432.26" y="641.45" width="16.49" height="12.15" fill="#d9e1f9"/>
<rect x="448.45" y="641.45" width="16.49" height="12.15" fill="#ff9999"/>
<rect x="464.64" y="641.45" width="16.49" height="12.15" fill="#ff8c8c"/>
<rect x="480.83" y="641.45" width="16.49" height="12.15" fill="#ff2d2d"/>
<rect x="497.02" y="641.45" width="16.49" height="12.15" fill="#fffcfc"/>
<rect x="513.21" y="641.45" width="16.49" height="12.15" fill="#ffeded"/>
<rect x="529.40" y="641.45" width="16.49" height="12.15" fill="#ff9999"/>
<rect x="545.59" y="641.45" width="16.49" height="12.15" fill="#ffcbcb"/>
<rect x="561.78" y="641.45" width="16.49" height="12.15" fill="#ff6262"/>
<rect x="577.97" y="641.45" width="16.49" height="12.15" fill="#ff8c8c"/>
<rect x="594.16" y="641.45" width="16.49" height="12.15" fill="#ffa1a1"/>
<rect x="610.35" y="641.45" width="16.49" height="12.15" fill="#ff2020"/>
<rect x="626.54" y="641.45" width="16.49" height="12.15" fill="#d0daf8"/>
<rect x="30.3" y="500.5" width="10.6" height="47.40" fill="#fdc086"/>
<text x="0" y="0" font-size="9.25" text-anchor="middle" transform="translate(27.9 524.20) rotate(-90)">WT</text>
<rect x="30.3" y="553.3" width="10.6" height="47.30" fill="#7fc97f"/>
<text x="0" y="0" font-size="9.25" text-anchor="middle" transform="translate(27.9 576.95) rotate(-90)">EP</text>
<rect x="30.3" y="605.9" width="10.6" height="48.10" fill="#bfaed4"/>
<text x="0" y="0" font-size="9.25" text-anchor="middle" transform="translate(27.9 629.95) rotate(-90)">EPP</text>
<text x="0" y="0" font-size="9.3" transform="translate(52.60 497.5) rotate(-45)">Irf2bp2</text>
<text x="0" y="0" font-size="9.3" transform="translate(68.79 497.5) rotate(-45)">Ptpn3</text>
<text x="0" y="0" font-size="9.3" transform="translate(84.98 497.5) rotate(-45)">Glul</text>
<text x="0" y="0" font-size="9.3" transform="translate(101.17 497.5) rotate(-45)">Arid5b</text>
<text x="0" y="0" font-size="9.3" transform="translate(117.36 497.5) rotate(-45)">Mcl1</text>
<text x="0" y="0" font-size="9.3" transform="translate(133.55 497.5) rotate(-45)">Crim1</text>
<text x="0" y="0" font-size="9.3" transform="translate(149.74 497.5) rotate(-45)">Klf9</text>
<text x="0" y="0" font-size="9.3" transform="translate(165.93 497.5) rotate(-45)">Sesn1</text>
<text x="0" y="0" font-size="9.3" transform="translate(182.12 497.5) rotate(-45)">Flrt3</text>
<text x="0" y="0" font-size="9.3" transform="translate(198.31 497.5) rotate(-45)">Spib</text>
<text x="0" y="0" font-size="9.3" transform="translate(214.50 497.5) rotate(-45)">Rassf8</text>
<text x="0" y="0" font-size="9.3" transform="translate(230.69 497.5) rotate(-45)">Rere</text>
<text x="0" y="0" font-size="9.3" transform="translate(246.88 497.5) rotate(-45)">Ppm1b</text>
<text x="0" y="0" font-size="9.3" transform="translate(263.07 497.5) rotate(-45)">Ptpn14</text>
<text x="0" y="0" font-size="9.3" transform="translate(279.26 497.5) rotate(-45)">Vldr</text>
<text x="0" y="0" font-size="9.3" transform="translate(295.45 497.5) rotate(-45)">Cd164</text>
<text x="0" y="0" font-size="9.3" transform="translate(311.64 497.5) rotate(-45)">Wnt9a</text>
<text x="0" y="0" font-size="9.3" transform="translate(327.83 497.5) rotate(-45)">Mpp7</text>
<text x="0" y="0" font-size="9.3" transform="translate(344.02 497.5) rotate(-45)">Eif4ebp1</text>
<text x="0" y="0" font-size="9.3" transform="translate(360.21 497.5) rotate(-45)">Tle4</text>
<text x="0" y="0" font-size="9.3" fill="#4a3838" transform="translate(376.40 497.5) rotate(-45)">Foxo1</text>
<text x="0" y="0" font-size="9.3" transform="translate(392.59 497.5) rotate(-45)">Elf4</text>
<text x="0" y="0" font-size="9.3" transform="translate(408.78 497.5) rotate(-45)">Sde2</text>
<text x="0" y="0" font-size="9.3" transform="translate(424.97 497.5) rotate(-45)">Mitf</text>
<text x="0" y="0" font-size="9.3" transform="translate(441.16 497.5) rotate(-45)">Rfx3</text>
<text x="0" y="0" font-size="9.3" transform="translate(457.35 497.5) rotate(-45)">Grb10</text>
<text x="0" y="0" font-size="9.3" transform="translate(473.54 497.5) rotate(-45)">Rnf144b</text>
<text x="0" y="0" font-size="9.3" transform="translate(489.73 497.5) rotate(-45)">Acsl6</text>
<text x="0" y="0" font-size="9.3" transform="translate(505.92 497.5) rotate(-45)">Trpm7</text>
<text x="0" y="0" font-size="9.3" transform="translate(522.11 497.5) rotate(-45)">B3galt1</text>
<text x="0" y="0" font-size="9.3" transform="translate(538.30 497.5) rotate(-45)">Pik3r1</text>
<text x="0" y="0" font-size="9.3" transform="translate(554.49 497.5) rotate(-45)">Fmnl2</text>
<text x="0" y="0" font-size="9.3" transform="translate(570.68 497.5) rotate(-45)">Arid2</text>
<text x="0" y="0" font-size="9.3" transform="translate(586.87 497.5) rotate(-45)">4930447C04Rik</text>
<text x="0" y="0" font-size="9.3" transform="translate(603.06 497.5) rotate(-45)">Il1r1</text>
<text x="0" y="0" font-size="9.3" transform="translate(619.25 497.5) rotate(-45)">D5Ertd579e</text>
<text x="0" y="0" font-size="9.3" transform="translate(635.44 497.5) rotate(-45)">Rhod</text>
<text x="0" y="0" font-size="9.25" font-weight="bold" transform="translate(35.0 497.4) rotate(-45)">Group</text>
<text x="653.40" y="605.80" font-size="9.25" text-anchor="start" fill="#000" font-weight="normal" >Z-score</text>
<defs><linearGradient id="zs" x1="0" y1="1" x2="0" y2="0"><stop offset="0" stop-color="#4466b4"/><stop offset="0.5" stop-color="#ffffff"/><stop offset="1" stop-color="#e02525"/></linearGradient></defs>
<rect x="653.1" y="611.7" width="8.6" height="41.2" fill="url(#zs)"/>
<text x="663.60" y="617.60" font-size="9.25" text-anchor="start" fill="#000" font-weight="normal" >High</text>
<text x="663.60" y="652.30" font-size="9.25" text-anchor="start" fill="#000" font-weight="normal" >Low</text>
</svg></body></html>
